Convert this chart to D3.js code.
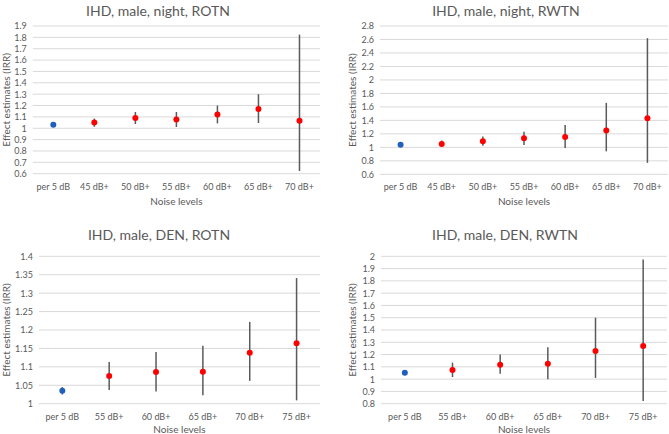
<!DOCTYPE html>
<html><head><meta charset="utf-8">
<script src="https://cdn.jsdelivr.net/npm/d3@7"></script>
<style>
body{margin:0;background:#fff;}
text{font-family:Lato,"Open Sans",sans-serif;fill:#595959;}
</style></head>
<body>
<svg id="chart" width="669" height="434"></svg>
<script>
// ---- Data ----
const titles = ["IHD, male, night, ROTN","IHD, male, night, RWTN","IHD, male, DEN, ROTN","IHD, male, DEN, RWTN"];

const catsNight = ["per 5 dB","45 dB+","50 dB+","55 dB+","60 dB+","65 dB+","70 dB+"];
const catsDen   = ["per 5 dB","55 dB+","60 dB+","65 dB+","70 dB+","75 dB+"];

const estNightROTN = [1.03,1.05,1.09,1.077,1.12,1.17,1.067];
const lowNightROTN = [1.02,1.013,1.037,1.011,1.043,1.046,0.624];
const upNightROTN  = [1.04,1.085,1.143,1.143,1.20,1.30,1.824];

const estNightRWTN = [1.04,1.05,1.09,1.134,1.154,1.25,1.43];
const lowNightRWTN = [1.025,1.01,1.025,1.035,0.99,0.94,0.77];
const upNightRWTN  = [1.055,1.10,1.16,1.23,1.33,1.66,2.62];

const estDenROTN = [1.035,1.075,1.086,1.087,1.138,1.164];
const lowDenROTN = [1.025,1.037,1.033,1.023,1.062,1.009];
const upDenROTN  = [1.045,1.113,1.14,1.157,1.222,1.341];

const estDenRWTN = [1.052,1.074,1.118,1.126,1.229,1.27];
const lowDenRWTN = [1.035,1.017,1.044,1.0,1.009,0.822];
const upDenRWTN  = [1.07,1.134,1.2,1.259,1.5,1.973];

const ticksNightROTN = [0.6,0.7,0.8,0.9,1,1.1,1.2,1.3,1.4,1.5,1.6,1.7,1.8,1.9];
const ticksNightRWTN = [0.6,0.8,1,1.2,1.4,1.6,1.8,2,2.2,2.4,2.6,2.8];
const ticksDenROTN   = [1,1.05,1.1,1.15,1.2,1.25,1.3,1.35,1.4];
const ticksDenRWTN   = [0.8,0.9,1,1.1,1.2,1.3,1.4,1.5,1.6,1.7,1.8,1.9,2];

const xTitle = "Noise levels";
const yTitle = "Effect estimates (IRR)";

// ---- Layout ----
const panels = [
  {title:titles[0], cats:catsNight, est:estNightROTN, low:lowNightROTN, up:upNightROTN, ticks:ticksNightROTN,
   ox:0, oy:0, x0:32.8, x1:320, yTop:26, yBot:173.7, titleX:158, titleY:16, yTitleX:6, tickPad:9.5, axTitleY:204.5},
  {title:titles[1], cats:catsNight, est:estNightRWTN, low:lowNightRWTN, up:upNightRWTN, ticks:ticksNightRWTN,
   ox:335, oy:0, x0:45, x1:333, yTop:26, yBot:174.3, titleX:171, titleY:16, yTitleX:17, tickPad:9, axTitleY:205},
  {title:titles[2], cats:catsDen, est:estDenROTN, low:lowDenROTN, up:upDenROTN, ticks:ticksDenROTN,
   ox:0, oy:217, x0:38.9, x1:320, yTop:39.3, yBot:186.7, titleX:159, titleY:23, yTitleX:6, tickPad:10, axTitleY:216},
  {title:titles[3], cats:catsDen, est:estDenRWTN, low:lowDenRWTN, up:upDenRWTN, ticks:ticksDenRWTN,
   ox:335, oy:217, x0:46, x1:332, yTop:39.3, yBot:186.7, titleX:170, titleY:23, yTitleX:17, tickPad:9.5, axTitleY:216}
];

const svg = d3.select("#chart");

panels.forEach(p => {
  const g = svg.append("g").attr("transform", `translate(${p.ox},${p.oy})`);
  const x = d3.scaleBand().domain(p.cats).range([p.x0, p.x1]);
  const y = d3.scaleLinear().domain([d3.min(p.ticks), d3.max(p.ticks)]).range([p.yBot, p.yTop]);

  // gridlines
  g.append("g").selectAll("line").data(p.ticks).join("line")
    .attr("x1", p.x0).attr("x2", p.x1)
    .attr("y1", d => y(d)).attr("y2", d => y(d))
    .attr("stroke", "#d9d9d9").attr("stroke-width", 1);

  // y tick labels
  const yAxis = g.append("g").attr("transform", `translate(${p.x0},0)`)
    .call(d3.axisLeft(y).tickValues(p.ticks).tickFormat(d3.format("~g")).tickSize(0).tickPadding(6));
  yAxis.select(".domain").remove();
  yAxis.selectAll("text").attr("font-size", 9).attr("fill", "#595959").attr("font-family", "Lato");

  // x tick labels
  const xAxis = g.append("g").attr("transform", `translate(0,${p.yBot})`)
    .call(d3.axisBottom(x).tickSize(0).tickPadding(p.tickPad));
  xAxis.select(".domain").remove();
  xAxis.selectAll("text").attr("font-size", 9).attr("fill", "#595959").attr("font-family", "Lato");

  // error bars
  g.append("g").selectAll("line").data(p.cats).join("line")
    .attr("x1", d => x(d) + x.bandwidth()/2).attr("x2", d => x(d) + x.bandwidth()/2)
    .attr("y1", (d,i) => y(p.low[i])).attr("y2", (d,i) => y(p.up[i]))
    .attr("stroke", "#5a5a5a").attr("stroke-width", 1.5);

  // markers
  g.append("g").selectAll("circle").data(p.cats).join("circle")
    .attr("cx", d => x(d) + x.bandwidth()/2)
    .attr("cy", (d,i) => y(p.est[i]))
    .attr("r", 3)
    .attr("fill", (d,i) => i === 0 ? "#1f5fc0" : "#ff0000");

  // title
  g.append("text").attr("x", p.titleX).attr("y", p.titleY).attr("text-anchor", "middle")
    .attr("font-size", 14).text(p.title);

  // x axis title
  g.append("text").attr("x", (p.x0 + p.x1)/2).attr("y", p.axTitleY).attr("text-anchor", "middle")
    .attr("font-size", 10).text(xTitle);

  // y axis title
  g.append("text").attr("transform", `translate(${p.yTitleX},${(p.yTop + p.yBot)/2}) rotate(-90)`)
    .attr("text-anchor", "middle").attr("dy", "0.35em")
    .attr("font-size", 10).text(yTitle);
});
</script>
</body></html>
